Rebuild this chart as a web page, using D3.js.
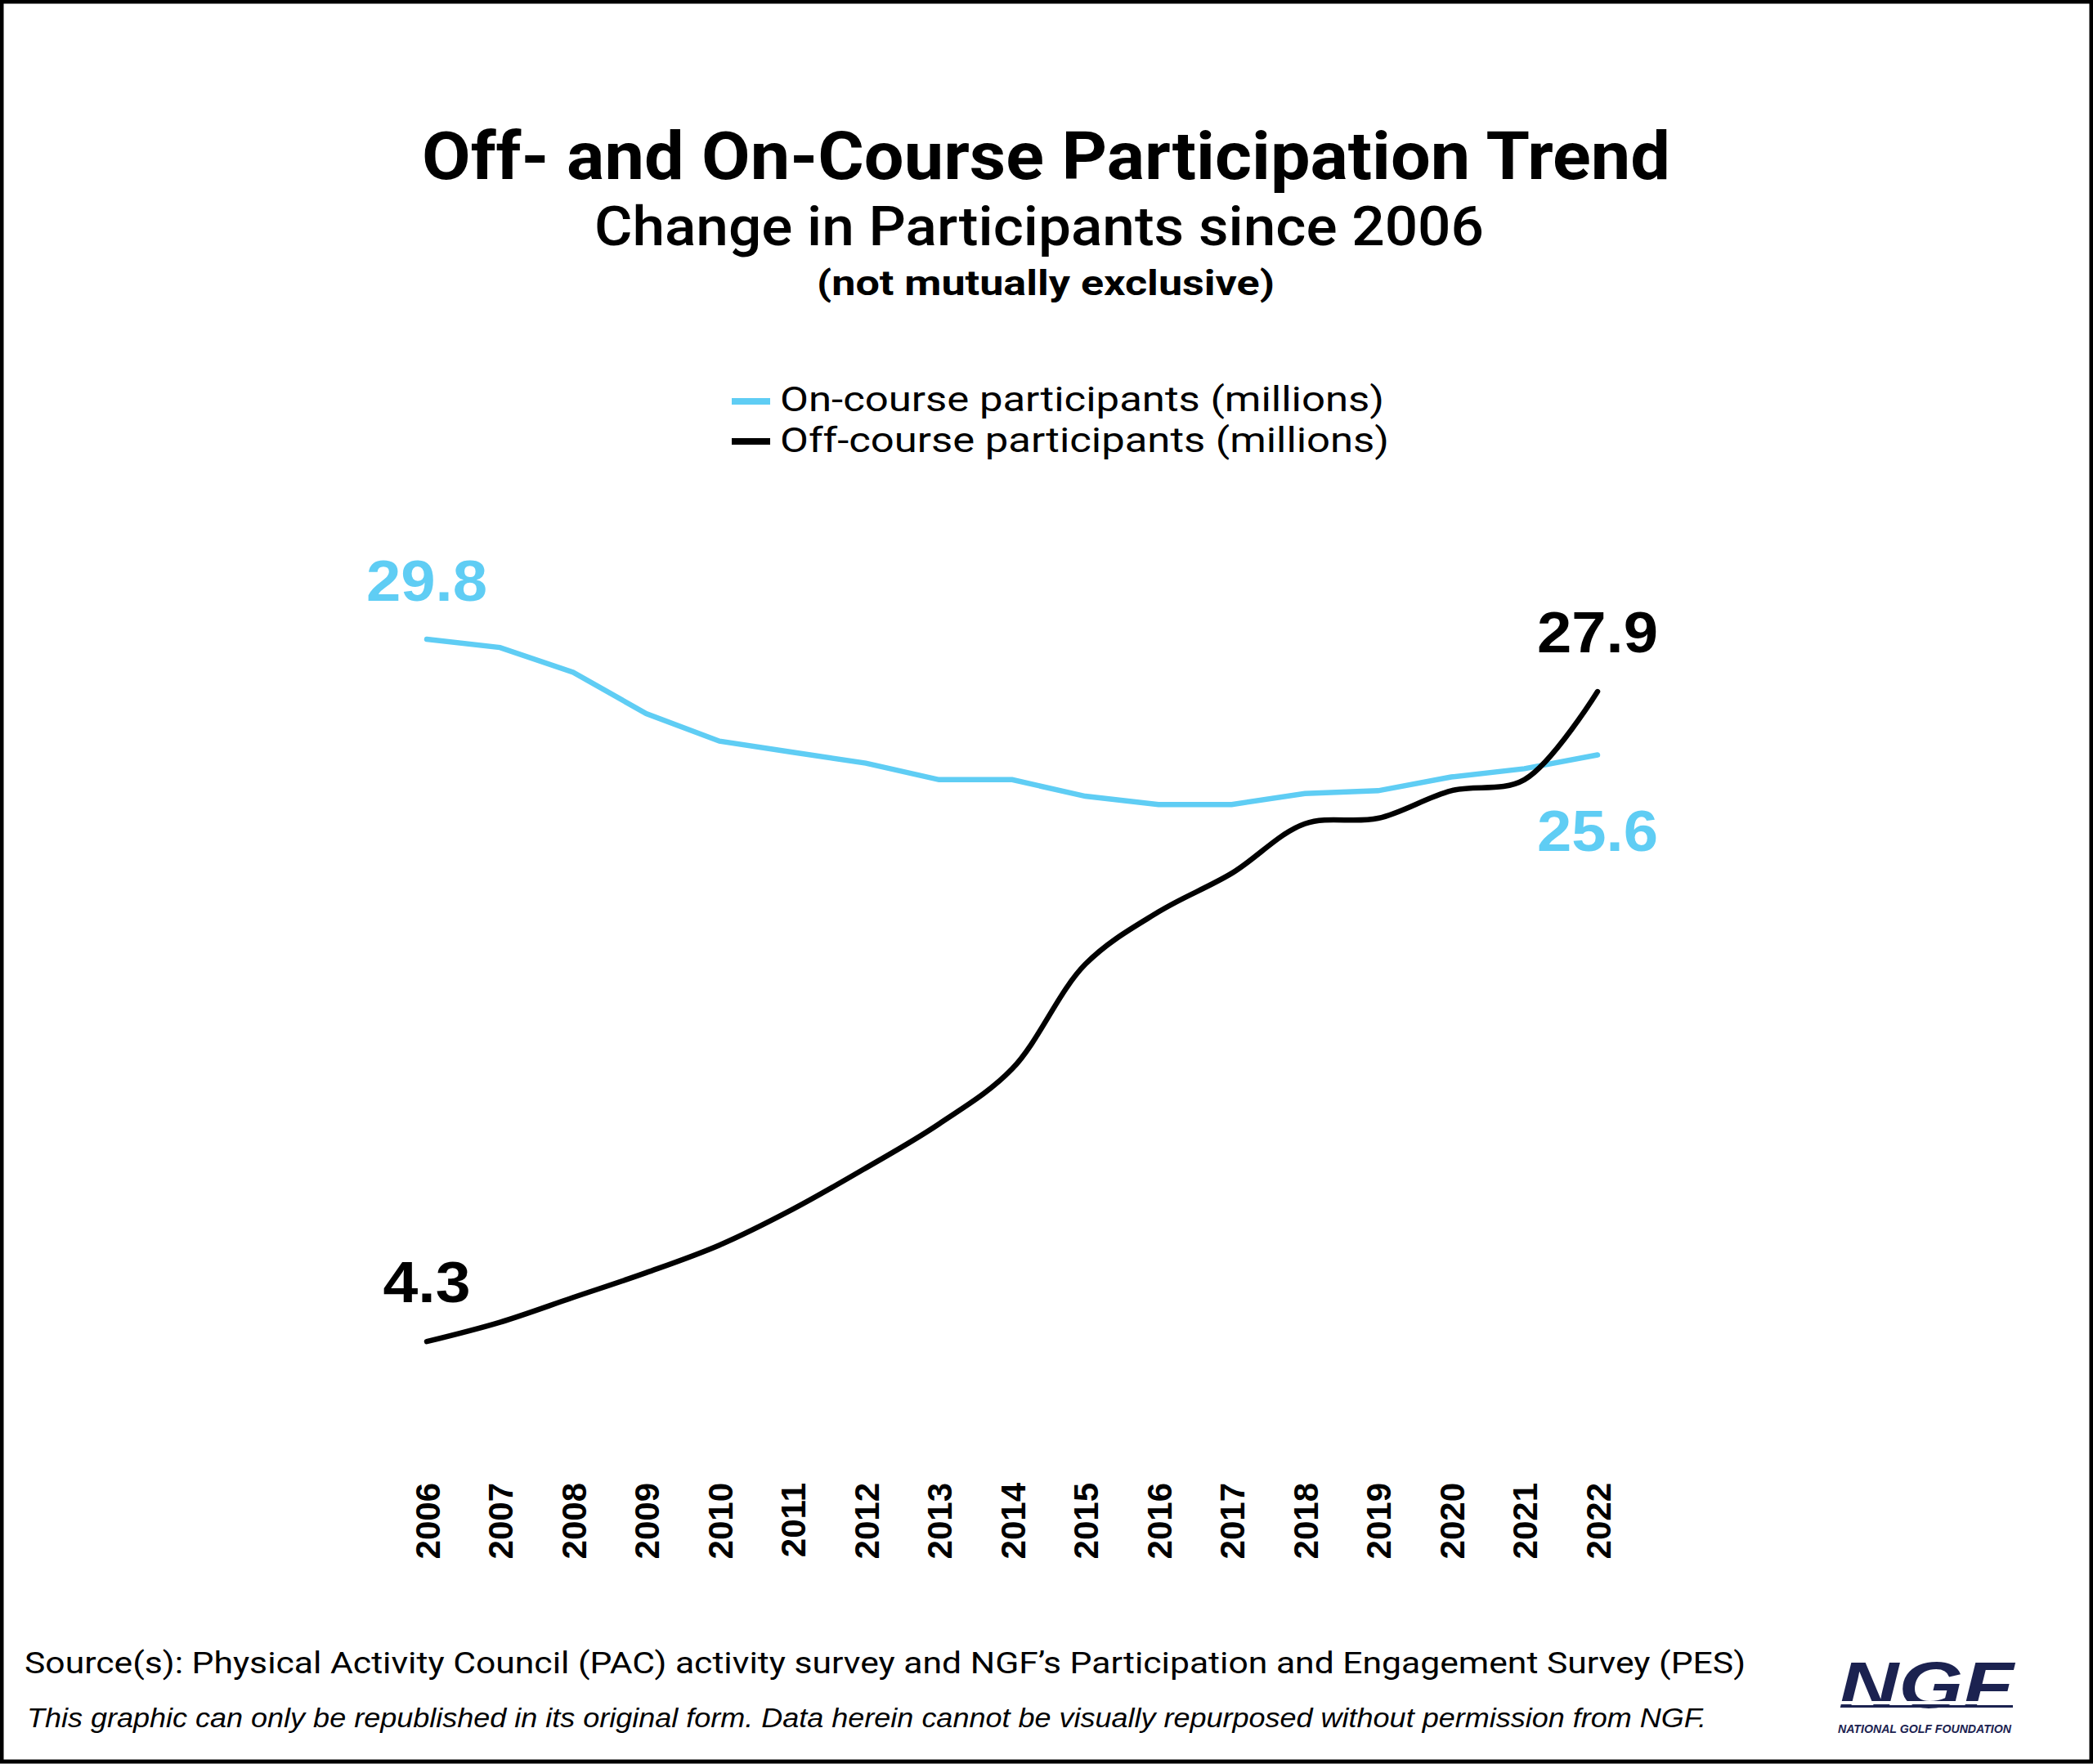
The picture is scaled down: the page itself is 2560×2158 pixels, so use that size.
<!DOCTYPE html>
<html><head><meta charset="utf-8">
<script src="https://cdn.jsdelivr.net/npm/d3@7"></script>
<style>body{margin:0;background:#fff} svg{display:block}</style>
</head><body>
<svg id="chart" width="2560" height="2158"></svg>
<script>
// ---- data ----
const years = [2006,2007,2008,2009,2010,2011,2012,2013,2014,2015,2016,2017,2018,2019,2020,2021,2022];
const onCourse = [29.8,29.5,28.6,27.1,26.1,25.7,25.3,24.7,24.7,24.1,23.8,23.8,24.2,24.3,24.8,25.1,25.6];
const offCourse = [4.3,5.0,5.9,6.8,7.8,9.1,10.6,12.2,14.2,18.0,19.9,21.3,23.1,23.3,24.3,24.7,27.9];
const seriesNames = ["On-course participants (millions)", "Off-course participants (millions)"];
const titleText = "Off- and On-Course Participation Trend";
const subtitleText = "Change in Participants since 2006";
const noteText = "(not mutually exclusive)";
const sourceText = "Source(s): Physical Activity Council (PAC) activity survey and NGF\u2019s Participation and Engagement Survey (PES)";
const disclaimerText = "This graphic can only be republished in its original form. Data herein cannot be visually repurposed without permission from NGF.";

const BLUE = "#5fcdf4", BLACK = "#000", NAVY = "#1b2250";
const svg = d3.select("#chart");
svg.append("rect").attr("width",2560).attr("height",2158).attr("fill","#fff");

// ---- scales ----
const x = d3.scalePoint().domain(years).range([522, 1954]);
const y = d3.scaleLinear().domain([0, 30]).range([1786, 775.3]);

// ---- titles ----
function txt(t, px, py, size, weight, family, len, extra) {
  const e = svg.append("text").attr("x", px).attr("y", py)
    .attr("font-size", size).attr("font-weight", weight)
    .attr("font-family", family).attr("fill", "#000").text(t);
  if (len) e.attr("textLength", len).attr("lengthAdjust", "spacingAndGlyphs");
  if (extra) extra(e);
  return e;
}
const GRO = "Roboto, 'Liberation Sans', sans-serif";
txt(titleText, 516, 219, 81, 700, GRO, 1527);
txt(subtitleText, 727, 300, 66, 500, GRO, 1088);
txt(noteText, 999, 361, 43, 700, GRO, 560);

// ---- legend ----
const leg = svg.append("g");
[[seriesNames[0], BLUE, 491, 503, 739], [seriesNames[1], BLACK, 540, 553, 745]].forEach(([name, col, ly, ty, tl]) => {
  leg.append("line").attr("x1", 895).attr("x2", 942).attr("y1", ly).attr("y2", ly)
    .attr("stroke", col).attr("stroke-width", 8);
  txt(name, 954, ty, 42, 400, GRO, tl);
});

// ---- lines ----
const onLine = d3.line().x((d,i) => x(years[i])).y(d => y(d));
const offLine = d3.line().x((d,i) => x(years[i])).y(d => y(d)).curve(d3.curveCatmullRom.alpha(0.5));
svg.append("path").datum(onCourse).attr("d", onLine).attr("fill","none")
  .attr("stroke", BLUE).attr("stroke-width", 6.5).attr("stroke-linecap","round").attr("stroke-linejoin","miter");
svg.append("path").datum(offCourse).attr("d", offLine).attr("fill","none")
  .attr("stroke", BLACK).attr("stroke-width", 6.5).attr("stroke-linecap","round");

// ---- value labels ----
const LAB = "'Liberation Sans', Arial, sans-serif";
const last = years.length - 1;
function vlabel(v, xi, py, col) {
  const s = v.toFixed(1);
  svg.append("text").attr("x", x(years[xi])).attr("y", py)
    .attr("text-anchor","middle").attr("font-family", LAB).attr("font-weight",700)
    .attr("font-size", 71).attr("fill", col)
    .attr("textLength", s.length === 4 ? 148 : 107).attr("lengthAdjust","spacingAndGlyphs")
    .text(s);
}
vlabel(onCourse[0], 0, 735, BLUE);
vlabel(offCourse[0], 0, 1593, BLACK);
vlabel(offCourse[last], last, 798, BLACK);
vlabel(onCourse[last], last, 1041, BLUE);

// ---- x axis ----
const xAxis = d3.axisBottom(x).tickSize(0).tickPadding(0);
const gx = svg.append("g").attr("transform", "translate(0,1800)").call(xAxis);
gx.select(".domain").remove();
gx.selectAll("text").attr("transform","rotate(-90)").attr("text-anchor","end")
  .attr("x", -14).attr("y", 0).attr("dy","0.36em")
  .attr("font-family", LAB).attr("font-size", 42).attr("font-weight", 700).attr("fill","#000");

// ---- footer ----
txt(sourceText, 30, 2047, 37, 400, GRO, 2105);
txt(disclaimerText, 33, 2113, 33, 400, LAB, 2054, e => e.attr("font-style","italic"));

// ---- logo ----
const logo = svg.append("g");
logo.append("text").attr("x", 2249).attr("y", 2089).attr("font-family", LAB)
  .attr("font-weight", 700).attr("font-style","italic").attr("font-size", 80)
  .attr("fill", NAVY).attr("textLength", 214).attr("lengthAdjust","spacingAndGlyphs").text("NGF");
logo.append("rect").attr("x", 2240).attr("y", 2081).attr("width", 230).attr("height", 4).attr("fill","#fff");
logo.append("rect").attr("x", 2252).attr("y", 2086).attr("width", 210).attr("height", 3).attr("fill", NAVY);
logo.append("text").attr("x", 2248).attr("y", 2120).attr("font-family", LAB)
  .attr("font-weight", 700).attr("font-style","italic").attr("font-size", 14)
  .attr("fill", NAVY).attr("textLength", 212).attr("lengthAdjust","spacingAndGlyphs").text("NATIONAL GOLF FOUNDATION");

// ---- border ----
svg.append("rect").attr("x", 2).attr("y", 2).attr("width", 2556).attr("height", 2153)
  .attr("fill","none").attr("stroke","#000").attr("stroke-width", 5);
</script>
</body></html>
